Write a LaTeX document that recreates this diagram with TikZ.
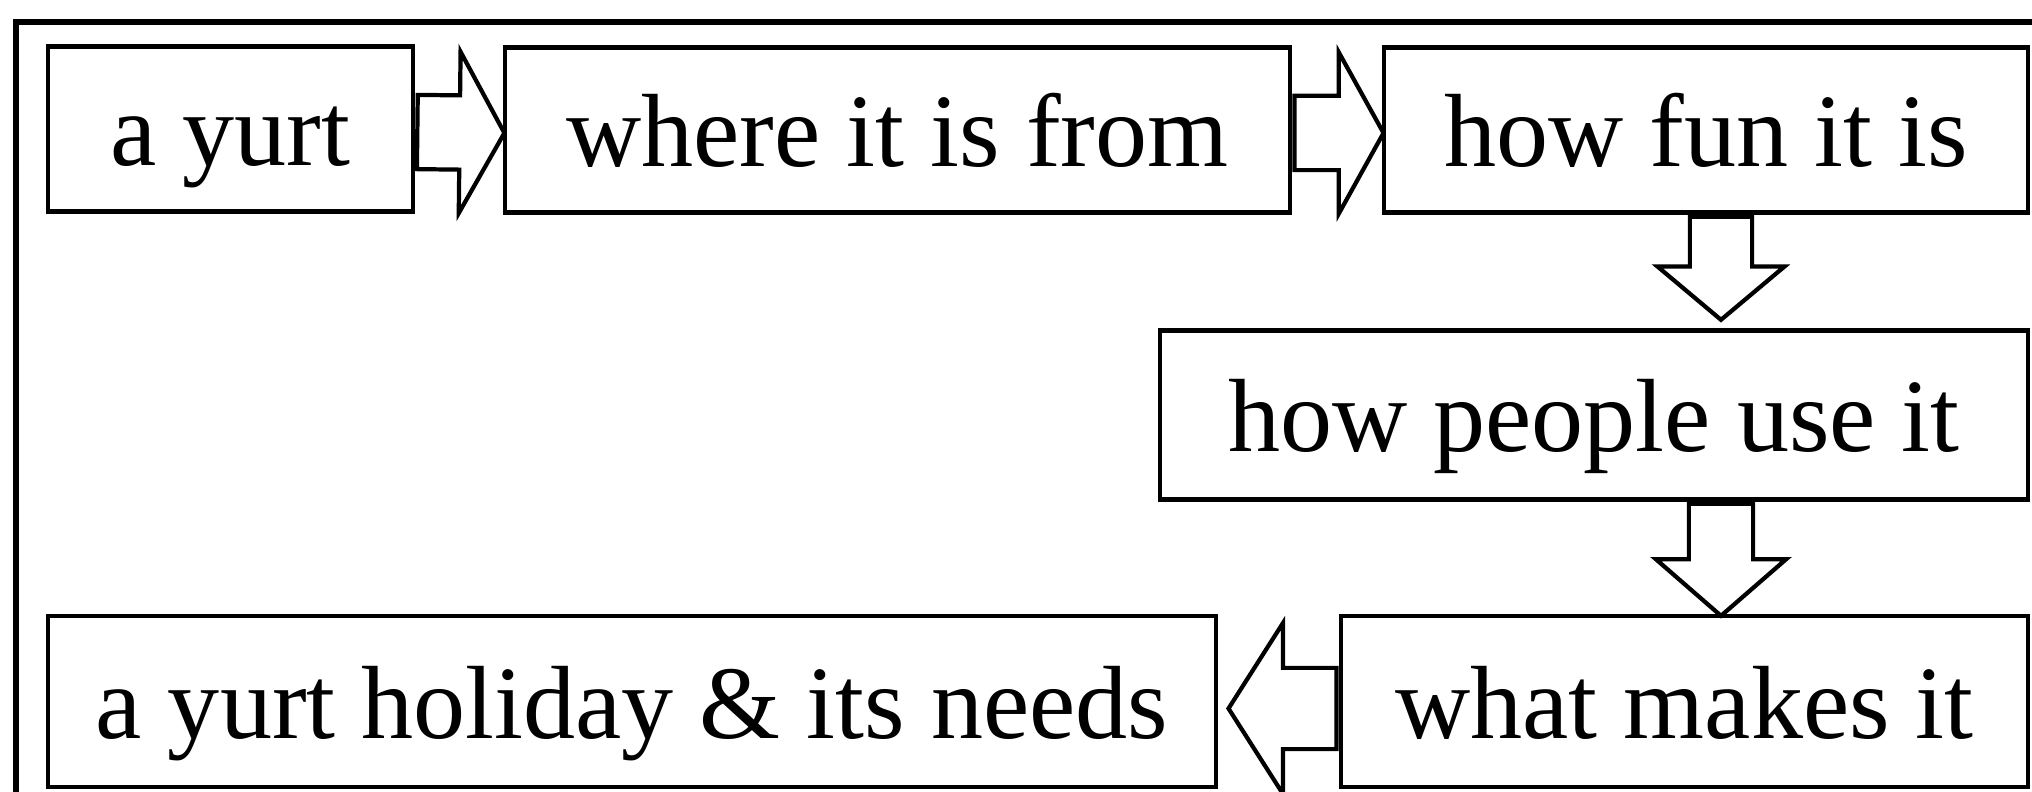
\documentclass[tikz,border=0pt]{standalone}
\usepackage{fontspec}
\setmainfont{Liberation Serif}
\usetikzlibrary{shapes.arrows}
\tikzset{
	topic/.style={
			draw, line width=1.2pt, inner sep=0pt, minimum height=1.65cm,
			text height=0.73cm, text depth=0pt,
			font=\fontsize{29.6}{36}\selectfont
		},
	flow/.style n args={3}{
			single arrow, draw, line width=1.2pt, inner xsep=0pt,
			sloped, allow upside down, anchor=tail,
			minimum height=#1, inner ysep=#2, single arrow head extend=#3
		}
}

\begin{document}
\begin{tikzpicture}[x=0.01cm, y=-0.01cm]
	\clip (0,0) rectangle (2032,792);
	\draw[line width=1.6pt] (16,22) rectangle (2070,840);

	\node[topic, minimum width=3.65cm] (yurt) at (230.5,129) {a yurt};
	\node[topic, minimum width=7.85cm] (from) at (897.5,130) {where it is from};
	\node[topic, minimum width=6.44cm] (fun) at (1706,130) {how fun it is};
	\node[topic, minimum width=8.68cm, minimum height=1.69cm] (people) at (1594,415) {how people use it};
	\node[topic, minimum width=6.87cm, minimum height=1.71cm] (makes) at (1684.5,701.5) {what makes it};
	\node[topic, minimum width=11.68cm, minimum height=1.71cm] (holiday) at (632,701.5) {a yurt holiday \& its needs};

	\coordinate (drop) at (1721,0);
	\path ([yshift=-0.03cm]yurt.east) -- ([yshift=-0.03cm]from.west)
		node[flow={0.87cm}{0.35cm}{0.435cm}, single arrow tip angle=122, at start] {};
	\path ([yshift=-0.03cm]from.east) -- ([yshift=-0.03cm]fun.west)
		node[flow={0.89cm}{0.35cm}{0.435cm}, single arrow tip angle=122, at start] {};
	\path (fun.south -| drop) -- (people.north -| drop)
		node[flow={1.03cm}{0.29cm}{0.325cm}, single arrow tip angle=100, at start] {};
	\path (people.south -| drop) -- (makes.north -| drop)
		node[flow={1.12cm}{0.30cm}{0.33cm}, single arrow tip angle=98, at start] {};
	\path ([yshift=-0.07cm]makes.west) -- ([yshift=-0.07cm]holiday.east)
		node[flow={1.08cm}{0.385cm}{0.45cm}, single arrow tip angle=115, at start] {};
\end{tikzpicture}
\end{document}
